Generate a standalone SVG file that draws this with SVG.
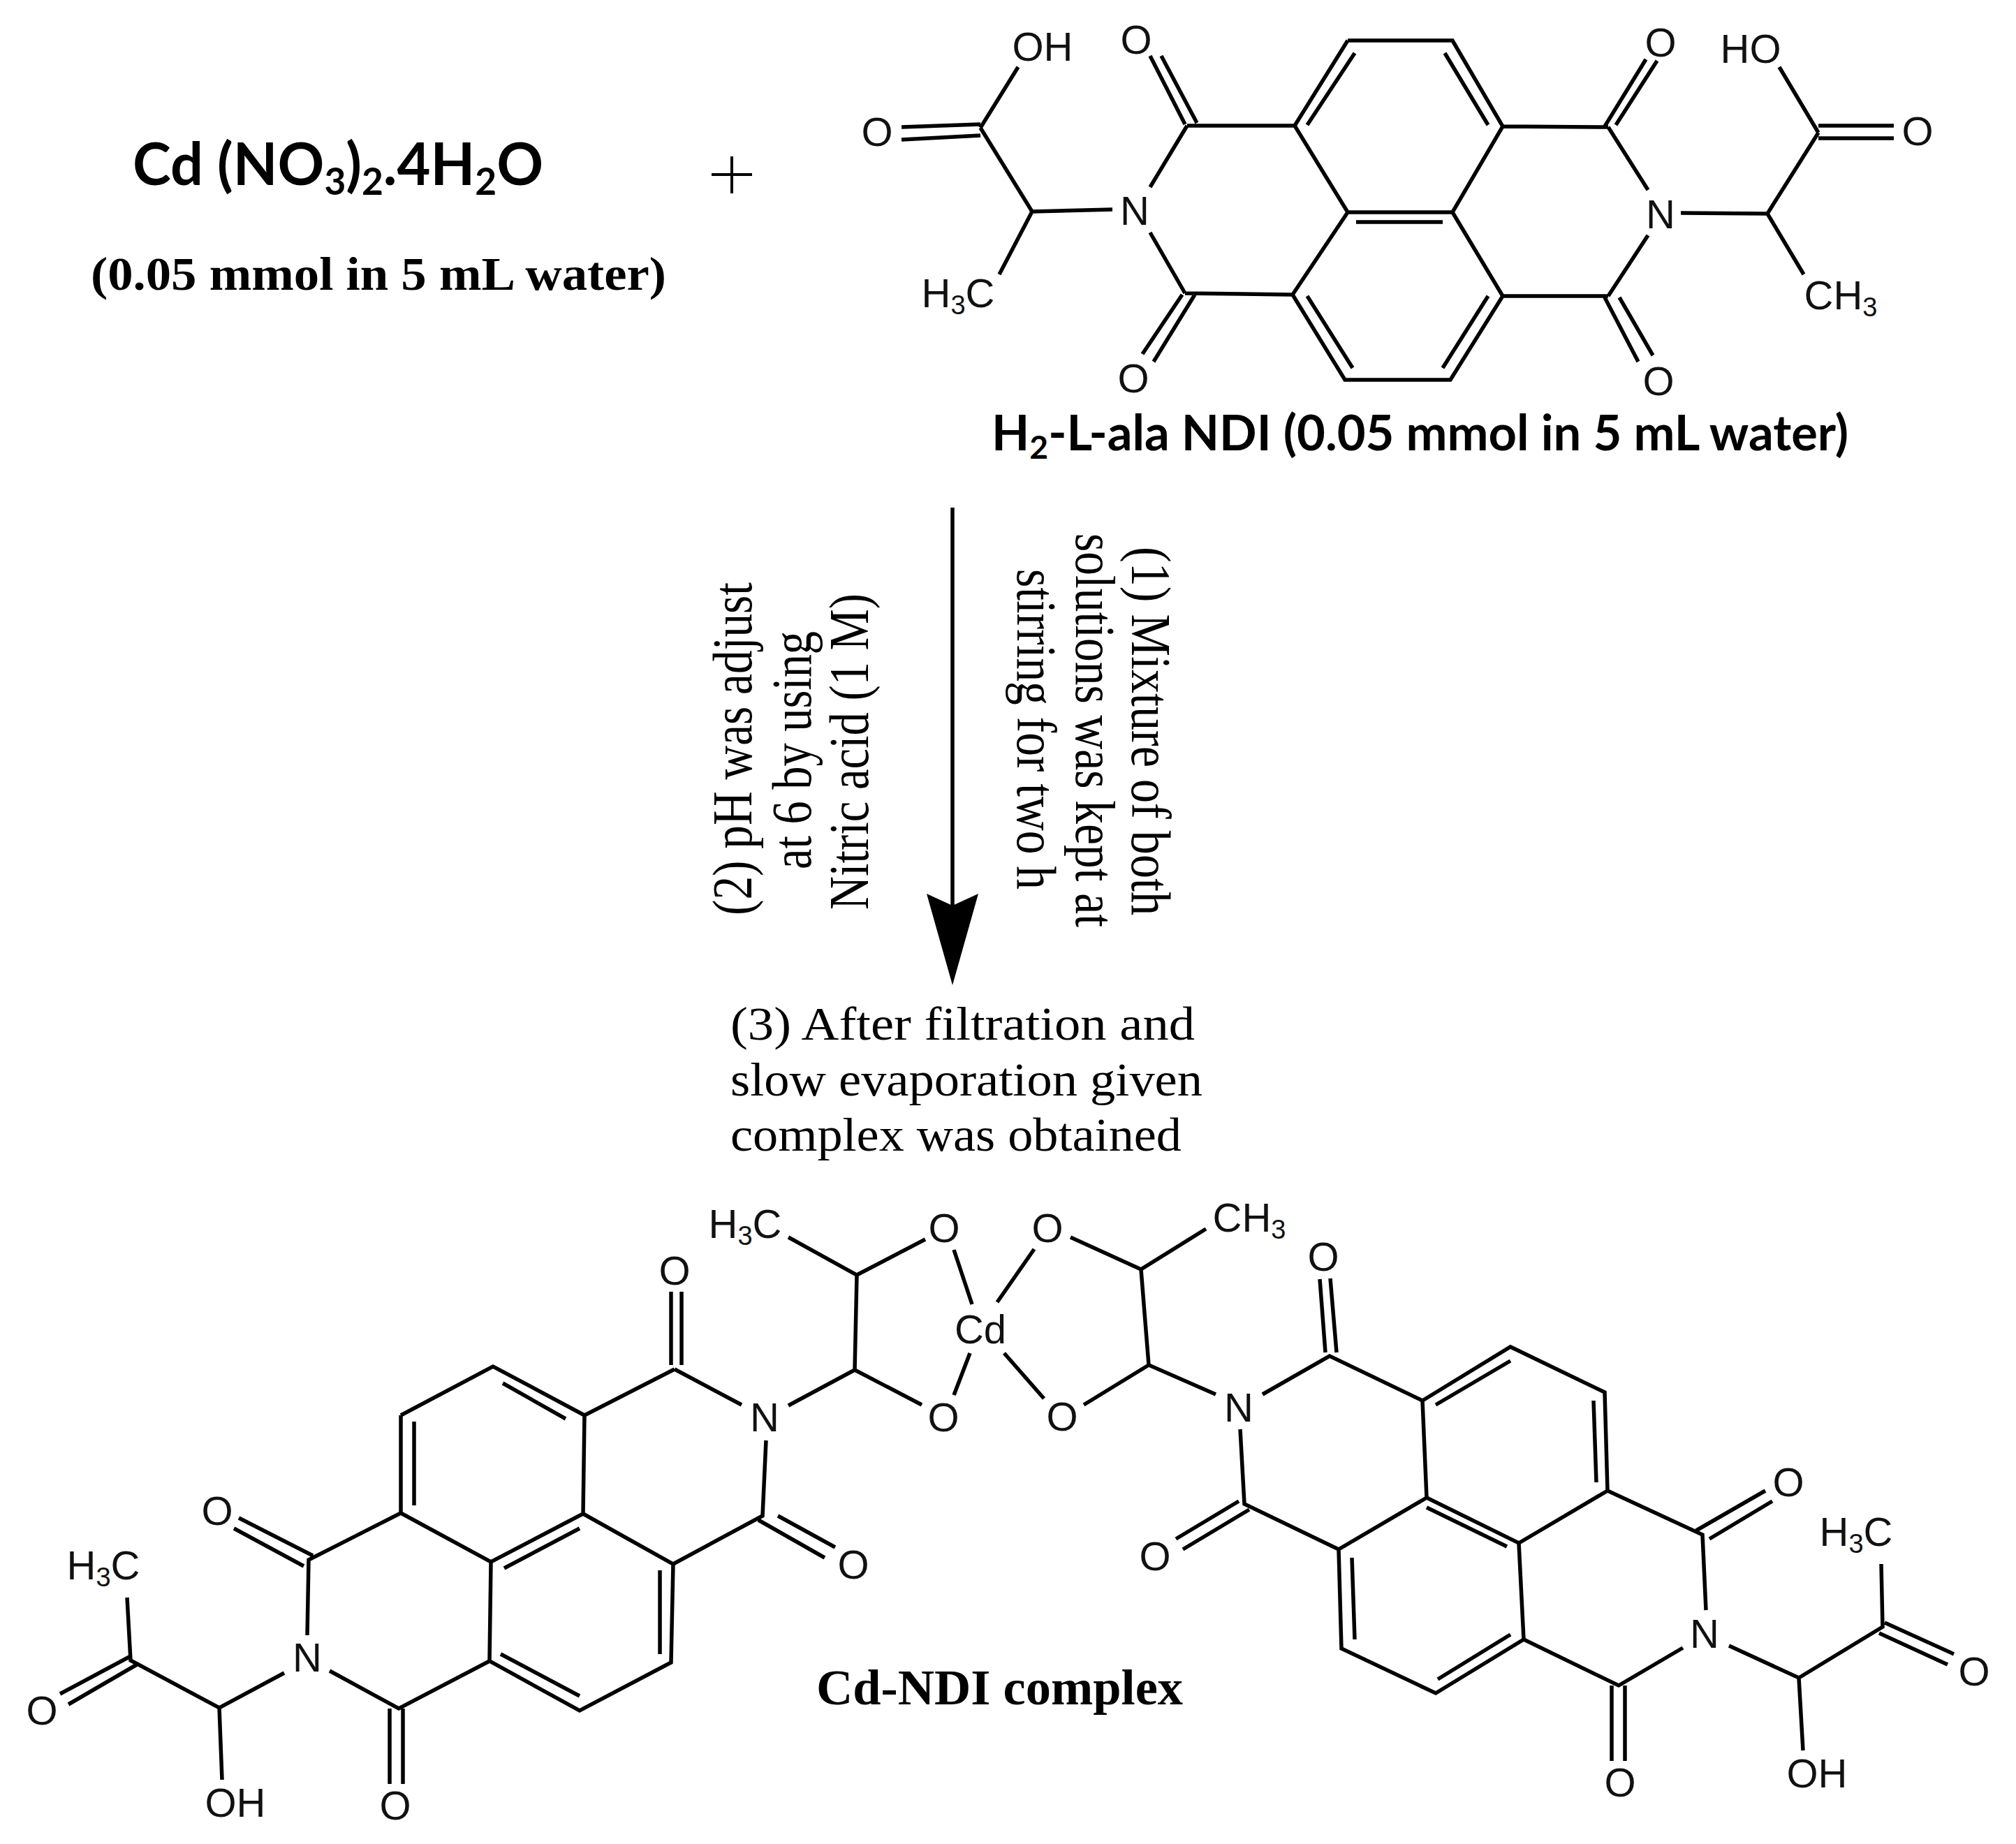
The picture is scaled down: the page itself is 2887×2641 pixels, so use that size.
<svg xmlns="http://www.w3.org/2000/svg" width="2887" height="2641" viewBox="0 0 2887 2641">
<style>
.bond{fill:none;stroke:#000;stroke-width:5.5;stroke-linejoin:miter}
.atom{font-family:"Liberation Sans",Arial,sans-serif;font-size:58px;fill:#111;text-anchor:middle;transform:translateY(2px)}
.sub{font-size:38px}
.cal{font-family:Lato,"Open Sans",sans-serif;font-weight:700;fill:#000}
.ser{font-family:"Liberation Serif","Times New Roman",serif;fill:#000}
.b{font-weight:700}
</style>
<defs>
<marker id="head" markerUnits="userSpaceOnUse" markerWidth="140" markerHeight="80" refX="17" refY="37" orient="auto" viewBox="0 0 140 80"><path d="M0 0L17 37L0 74L131 37Z" fill="#000"/></marker>
</defs>
<rect width="2887" height="2641" fill="#fff"/>
<g id="reagent-cd">
<text class="cal" x="190" y="265" font-size="84" textLength="588" lengthAdjust="spacingAndGlyphs">Cd (NO<tspan font-size="54" dy="14">3</tspan><tspan dy="-14">)</tspan><tspan font-size="54" dy="14">2</tspan><tspan dy="-14">.4H</tspan><tspan font-size="54" dy="14">2</tspan><tspan dy="-14">O</tspan></text>
<text class="ser b" x="130" y="415" font-size="68" textLength="824" lengthAdjust="spacingAndGlyphs">(0.05 mmol in 5 mL water)</text>
</g>
<g id="plus"><path d="M1019 250H1077M1048 224V277" class="bond" style="stroke-width:4"/></g>
<g id="ligand">
<path class="bond" d="M1930 58H2080L2152 181L2080 304H1930L1854 180L1930 58M1930 304L1851 422L1926 544H2077L2152 424L2080 304M1940 76L1872 179M2069 76L2131 179M1872 424L1937 527M2131 424L2066 527M1942 318H2066M1854 180H1700M2152 181L2303 182M1851 422L1697 420M2152 424H2303M1647 268L1700 180M1647 333L1697 420M2360 272L2303 182M2360 337L2303 424M1647 80L1697 178M1663 80L1714 176M2357 85L2298 181M2373 87L2314 179M1693 422L1636 507M1711 422L1652 518M2298 426L2346 518M2319 426L2367 509M1458 96L1404 183M1291 182L1404 178M1291 200L1404 194M1404 183L1478 303L1593 300M1478 303L1431 393M2548 96L2604 190M2604 180H2712M2604 198H2712M2407 305L2531 306L2604 190M2531 306L2583 393"/>
<text class="atom" x="1627" y="75">O</text><text class="atom" x="1623" y="560">O</text><text class="atom" x="2378" y="79">O</text><text class="atom" x="2375" y="564">O</text>
<text class="atom" x="1625" y="320">N</text><text class="atom" x="2378" y="325">N</text>
<text class="atom" x="1256" y="207">O</text><text class="atom" x="2746" y="206">O</text>
<text class="atom" x="1493" y="85">OH</text><text class="atom" x="2507" y="88">HO</text>
<text class="atom" x="1372" y="438">H<tspan class="sub" dy="10">3</tspan><tspan dy="-10">C</tspan></text>
<text class="atom" x="2636" y="441">CH<tspan class="sub" dy="10">3</tspan></text>
</g>
<g id="ligand-label"><text class="cal" x="1420" y="645" font-size="70" textLength="1227" lengthAdjust="spacingAndGlyphs">H<tspan font-size="46" dy="12">2</tspan><tspan dy="-12">-L-ala NDI (0.05 mmol in 5 mL water)</tspan></text></g>
<g id="connectors">
<path id="reaction-arrow" d="M1364 727V1297" fill="none" stroke="#000" stroke-width="5.5" marker-end="url(#head)"/>
</g>
<g id="conditions" class="ser">
<text font-size="80" textLength="528" lengthAdjust="spacingAndGlyphs" transform="translate(1621 783) rotate(90)">(1) Mixture of both</text>
<text font-size="80" textLength="564" lengthAdjust="spacingAndGlyphs" transform="translate(1541 764) rotate(90)">solutions was kept at</text>
<text font-size="80" textLength="459" lengthAdjust="spacingAndGlyphs" transform="translate(1457 815) rotate(90)">stirring for two h</text>
<text font-size="80" textLength="477" lengthAdjust="spacingAndGlyphs" transform="translate(1076 1311) rotate(-90)">(2) pH was adjust</text>
<text font-size="80" textLength="341" lengthAdjust="spacingAndGlyphs" transform="translate(1161 1245) rotate(-90)">at 6 by using</text>
<text font-size="80" textLength="453" lengthAdjust="spacingAndGlyphs" transform="translate(1243 1303) rotate(-90)">Nitric acid (1 M)</text>
<text x="1046" y="1489" font-size="68" textLength="665" lengthAdjust="spacingAndGlyphs">(3) After filtration and</text>
<text x="1046" y="1569" font-size="68" textLength="676" lengthAdjust="spacingAndGlyphs">slow evaporation given</text>
<text x="1046" y="1648" font-size="68" textLength="646" lengthAdjust="spacingAndGlyphs">complex was obtained</text>
</g>
<g id="complex-left">
<path class="bond" d="M574 2027L706 1957L837 2027L835 2168L703 2237L574 2167V2027M703 2237L701 2379L830 2450L961 2381L964 2240L835 2168M720 1981L810 2032M593 2036V2156M830 2189L722 2246M945 2249V2369M717 2369L830 2429M837 2027L966 1961M961 1955V1850M976 1955V1850M1062 2012L966 1961M1097 2063L1092 2171L964 2240M1114 2171L1196 2216M1086 2177L1181 2231M574 2167L442 2234L440 2342M342 2174L448 2228M335 2189L435 2243M472 2393L571 2447L701 2379M558 2447V2555M577 2447V2555M407 2396L314 2446L187 2378L182 2288M187 2372L86 2426M196 2384L98 2441M314 2446L318 2549M1129 2013L1224 1962L1227 1826L1129 1772M1227 1826L1325 1775M1224 1962L1320 2012M1366 1790L1392 1868M1389 1938L1366 1998"/>
<text class="atom" x="966" y="1838">O</text><text class="atom" x="1222" y="2259">O</text><text class="atom" x="311" y="2182">O</text><text class="atom" x="566" y="2604">O</text><text class="atom" x="60" y="2468">O</text>
<text class="atom" x="1095" y="2048">N</text><text class="atom" x="440" y="2392">N</text>
<text class="atom" x="337" y="2600">OH</text>
<text class="atom" x="148" y="2260">H<tspan class="sub" dy="10">3</tspan><tspan dy="-10">C</tspan></text>
<text class="atom" x="1067" y="1771">H<tspan class="sub" dy="10">3</tspan><tspan dy="-10">C</tspan></text>
<text class="atom" x="1352" y="1777">O</text><text class="atom" x="1351" y="2048">O</text>
</g>
<g id="cd-centre"><text class="atom" x="1404" y="1922">Cd</text></g>
<g id="complex-right">
<path class="bond" d="M2037 2006L2163 1929L2298 1994L2302 2135L2175 2210L2043 2145L2037 2006M2043 2145L1917 2219L1921 2361L2056 2425L2182 2348L2175 2210M2056 2012L2163 1949M2282 2006L2286 2123M2043 2159L2158 2215M1936 2231L1940 2348M2059 2405L2163 2341M2037 2006L1904 1942L1808 1997M1890 1832L1898 1937M1905 1831L1914 1937M1776 2047L1782 2154L1917 2219M1684 2204L1774 2150M1694 2219L1789 2162M2302 2135L2438 2198L2443 2306M2429 2192L2528 2135M2448 2204L2538 2150M2182 2348L2318 2414L2410 2360M2308 2414V2522M2327 2414V2522M2476 2357L2576 2403L2696 2330L2694 2240M2699 2324L2798 2369M2691 2339L2789 2384M2576 2403L2582 2507M1741 1997L1645 1955L1634 1818L1727 1760M1634 1818L1533 1772M1645 1955L1552 2012M1481 1789L1428 1865M1438 1938L1495 2003"/>
<text class="atom" x="1895" y="1818">O</text><text class="atom" x="1654" y="2247">O</text><text class="atom" x="2561" y="2141">O</text><text class="atom" x="2320" y="2571">O</text><text class="atom" x="2827" y="2412">O</text>
<text class="atom" x="1774" y="2034">N</text><text class="atom" x="2441" y="2358">N</text>
<text class="atom" x="2602" y="2558">OH</text>
<text class="atom" x="2658" y="2212">H<tspan class="sub" dy="10">3</tspan><tspan dy="-10">C</tspan></text>
<text class="atom" x="1789" y="1762">CH<tspan class="sub" dy="10">3</tspan></text>
<text class="atom" x="1500" y="1777">O</text><text class="atom" x="1521" y="2047">O</text>
</g>
<g id="complex-label"><text class="ser b" x="1169" y="2441" font-size="72" textLength="525" lengthAdjust="spacingAndGlyphs">Cd-NDI complex</text></g>
</svg>
